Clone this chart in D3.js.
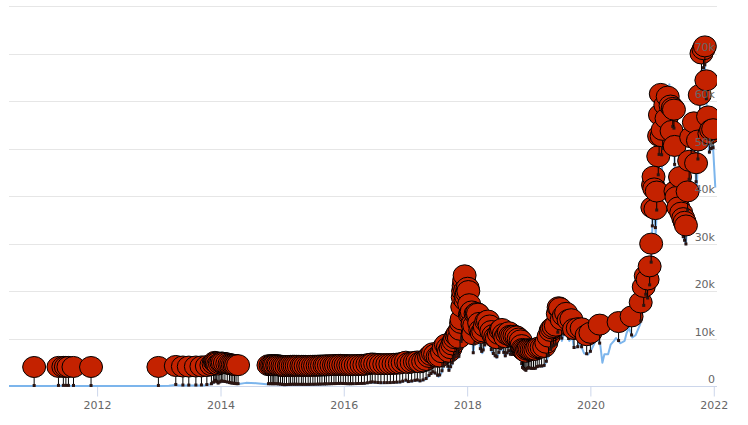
<!DOCTYPE html>
<html><head><meta charset="utf-8">
<script src="https://cdn.jsdelivr.net/npm/d3@7"></script>
<style>
html,body{margin:0;padding:0;background:#fff;}
svg{display:block;}
</style></head>
<body><svg id="chart" width="748" height="425"></svg>
<script>
// ---- Data ----
const priceDates = ["2010-07-28","2010-10-01","2010-11-07","2011-02-10","2011-04-01","2011-06-08","2011-09-01","2011-11-18","2012-01-01","2012-06-01","2012-09-01","2013-01-01","2013-03-01","2013-04-09","2013-05-01","2013-07-01","2013-10-01","2013-11-15","2013-11-30","2013-12-18","2014-01-05","2014-02-01","2014-03-01","2014-04-10","2014-06-01","2014-08-01","2014-10-01","2014-12-01","2015-01-14","2015-03-01","2015-06-01","2015-08-01","2015-11-04","2015-12-15","2016-02-01","2016-05-01","2016-06-17","2016-08-01","2016-10-01","2016-12-01","2017-01-04","2017-01-12","2017-02-15","2017-03-10","2017-03-25","2017-04-15","2017-05-01","2017-05-25","2017-06-12","2017-07-01","2017-07-16","2017-08-01","2017-08-17","2017-09-01","2017-09-15","2017-10-01","2017-10-20","2017-11-07","2017-11-12","2017-11-29","2017-12-08","2017-12-17","2017-12-22","2018-01-06","2018-01-17","2018-01-28","2018-02-06","2018-02-20","2018-03-05","2018-03-18","2018-04-01","2018-04-24","2018-05-05","2018-05-28","2018-06-24","2018-07-24","2018-08-14","2018-09-04","2018-09-15","2018-10-15","2018-11-14","2018-11-25","2018-12-15","2018-12-25","2019-01-15","2019-02-08","2019-02-24","2019-03-31","2019-04-15","2019-05-14","2019-05-31","2019-06-15","2019-06-26","2019-07-10","2019-07-16","2019-08-06","2019-08-29","2019-09-15","2019-09-26","2019-10-22","2019-10-26","2019-11-24","2019-12-17","2020-01-01","2020-02-12","2020-02-29","2020-03-12","2020-03-24","2020-04-15","2020-04-30","2020-05-20","2020-06-01","2020-06-27","2020-07-22","2020-08-02","2020-08-17","2020-09-05","2020-09-25","2020-10-21","2020-11-05","2020-11-24","2020-12-11","2020-12-27","2021-01-08","2021-01-22","2021-02-08","2021-02-21","2021-02-28","2021-03-13","2021-03-25","2021-04-13","2021-04-25","2021-05-08","2021-05-19","2021-06-08","2021-06-15","2021-06-22","2021-07-20","2021-08-13","2021-09-06","2021-09-21","2021-10-20","2021-11-09","2021-11-26","2021-12-04","2021-12-27","2022-01-10"];
const priceValues = [0.09,0.06,0.3,1,0.8,30,8,2.3,5,5.3,10,13,34,230,110,90,130,420,1130,520,950,820,560,360,660,590,380,380,180,260,230,280,400,450,370,450,750,600,615,750,1130,800,1000,1200,950,1180,1400,2300,2900,2500,1930,2700,4300,4900,3200,4400,6000,7100,5900,10000,16000,19300,14000,17100,11000,11700,6900,11200,11500,7900,6900,9600,9800,7100,5900,8200,6200,7400,6500,6600,5600,3800,3200,3800,3600,3600,4100,4100,5100,8000,8500,8800,12600,12300,9500,11800,9500,10300,8000,8200,9500,6900,6600,7200,10300,8500,4900,6700,6700,8700,9500,10100,9000,9500,11100,12300,10200,10700,12900,15500,19200,18000,26500,40700,32000,46000,57500,45000,61000,51000,63500,49000,58000,37000,33000,40000,32500,29800,47000,51700,40700,66000,67500,54000,49000,50700,41800];

const flagDates = ["2010-12-24","2011-05-17","2011-06-15","2011-06-30","2011-07-15","2011-08-14","2011-11-26","2012-12-29",
"2013-04-11","2013-05-23","2013-06-27","2013-08-08","2013-09-10","2013-10-12","2013-11-08","2013-11-21","2013-11-29","2013-12-05","2013-12-10","2013-12-18","2013-12-28",
"2014-01-06","2014-01-15","2014-01-27","2014-02-10","2014-02-23","2014-03-05","2014-03-15","2014-03-25","2014-04-03","2014-04-15",
"2014-10-12","2014-10-25","2014-11-03","2014-11-12","2014-11-20","2014-12-02","2014-12-10","2014-12-22","2015-01-03","2015-01-14","2015-01-27","2015-02-10","2015-02-20","2015-03-05","2015-03-16","2015-03-28","2015-04-10","2015-04-25","2015-05-06","2015-05-20","2015-06-04","2015-06-17","2015-07-02","2015-07-15","2015-07-30","2015-08-12","2015-08-25","2015-09-09","2015-09-20","2015-10-05","2015-10-20","2015-11-04","2015-11-16","2015-12-01","2015-12-14","2015-12-29",
"2016-01-12","2016-01-27","2016-02-10","2016-02-24","2016-03-12","2016-03-28","2016-04-15","2016-05-02","2016-05-20","2016-06-06","2016-06-18","2016-07-05","2016-07-22","2016-08-08","2016-08-28","2016-09-15","2016-10-03","2016-10-22","2016-11-09","2016-11-28","2016-12-15",
"2017-01-03","2017-01-18","2017-02-06","2017-02-25","2017-03-12","2017-03-28","2017-04-15","2017-05-03","2017-05-20","2017-06-01","2017-06-12","2017-06-25","2017-07-10","2017-07-22","2017-08-05","2017-08-15","2017-08-28","2017-09-08","2017-09-15","2017-09-25","2017-10-05","2017-10-13","2017-10-21","2017-10-30","2017-11-07","2017-11-13","2017-11-20","2017-11-26","2017-11-29","2017-12-03","2017-12-06","2017-12-08","2017-12-11","2017-12-14","2017-12-17","2017-12-20","2017-12-22","2017-12-26","2017-12-30",
"2018-01-04","2018-01-08","2018-01-13","2018-01-17","2018-01-22","2018-01-28","2018-02-02","2018-02-06","2018-02-12","2018-02-20","2018-02-27","2018-03-06","2018-03-13","2018-03-20","2018-03-28","2018-04-06","2018-04-15","2018-04-24","2018-05-04","2018-05-14","2018-05-24","2018-06-05","2018-06-16","2018-06-26","2018-07-08","2018-07-18","2018-07-26","2018-08-06","2018-08-15","2018-08-26","2018-09-05","2018-09-14","2018-09-25","2018-10-08","2018-10-20","2018-11-02","2018-11-14","2018-11-20","2018-11-25","2018-12-01","2018-12-08","2018-12-15","2018-12-22","2018-12-30",
"2019-01-08","2019-01-18","2019-01-29","2019-02-09","2019-02-20","2019-03-04","2019-03-18","2019-04-02","2019-04-15","2019-04-28","2019-05-10","2019-05-18","2019-05-28","2019-06-10","2019-06-22","2019-06-27","2019-07-05","2019-07-15","2019-07-28","2019-08-10","2019-08-25","2019-09-10","2019-09-26","2019-10-18","2019-11-10","2019-12-10",
"2020-01-01","2020-02-25","2020-06-16","2020-09-01","2020-10-25","2020-11-12","2020-11-24","2020-12-05","2020-12-17","2020-12-26",
"2021-01-02","2021-01-06","2021-01-09","2021-01-13","2021-01-20","2021-01-28","2021-02-06","2021-02-11","2021-02-16","2021-02-21","2021-02-26","2021-03-04","2021-03-20","2021-03-27","2021-04-03","2021-04-20","2021-04-26","2021-05-03","2021-05-10","2021-05-14","2021-05-19","2021-05-25","2021-06-05","2021-06-15","2021-06-22","2021-07-04","2021-07-12","2021-07-20","2021-07-30","2021-08-08","2021-08-20","2021-09-05","2021-09-18","2021-09-29","2021-10-10","2021-10-20","2021-11-01","2021-11-09","2021-11-18","2021-11-28","2021-12-06","2021-12-16","2021-12-28"];

const yTickValues = [0,10000,20000,30000,40000,50000,60000,70000,80000];
const yTickLabels = ["0","10k","20k","30k","40k","50k","60k","70k",""];
const xTickYears = [2012,2014,2016,2018,2020,2022];

// ---- Layout ----
const plot = {left: 9, right: 717, top: 6, bottom: 386};
const parse = d3.utcParse("%Y-%m-%d");
const FONT = '"Lucida Grande","Lucida Sans Unicode","DejaVu Sans",Arial,sans-serif';

const x = d3.scaleUtc()
  .domain([parse("2010-07-28"), parse("2022-01-20")])
  .range([plot.left, plot.right]);
const y = d3.scaleLinear().domain([0, 80000]).range([plot.bottom, plot.top]);

const svg = d3.select("#chart");
svg.append("defs").append("clipPath").attr("id","clip")
  .append("rect").attr("x",plot.left).attr("y",0)
  .attr("width",plot.right-plot.left).attr("height",plot.bottom+2);

// gridlines
svg.append("g").selectAll("line").data(yTickValues.filter(v=>v>0)).join("line")
  .attr("x1",plot.left).attr("x2",plot.right)
  .attr("y1",d=>Math.round(y(d))+0.5).attr("y2",d=>Math.round(y(d))+0.5)
  .attr("stroke","#e6e6e6").attr("stroke-width",1);

// x axis
const xAxis = d3.axisBottom(x)
  .tickValues(xTickYears.map(yr=>new Date(Date.UTC(yr,0,1))))
  .tickFormat(d3.utcFormat("%Y"))
  .tickSize(10).tickPadding(5);
const gx = svg.append("g").attr("transform",`translate(0,${plot.bottom+0.5})`).call(xAxis);
gx.select(".domain").attr("stroke","#ccd6eb").attr("d",`M${plot.left},0H${plot.right}`);
gx.selectAll(".tick line").attr("stroke","#ccd6eb");
gx.selectAll(".tick text").attr("fill","#666666").style("font-family",FONT).style("font-size","11px");

// price line
const prices = priceDates.map((d,i)=>({date:parse(d), value:priceValues[i]}));
const line = d3.line().x(d=>x(d.date)).y(d=>y(d.value));
svg.append("path").datum(prices)
  .attr("clip-path","url(#clip)")
  .attr("fill","none").attr("stroke","#7cb5ec").attr("stroke-width",2)
  .attr("stroke-linejoin","round").attr("d",line);

// flags positioned on the price series (like onSeries)
const bis = d3.bisector(d=>d.date).left;
function onSeriesValue(dt){
  const i = bis(prices, dt);
  if (i<=0) return prices[0].value;
  if (i>=prices.length) return prices[prices.length-1].value;
  const a = prices[i-1], b = prices[i];
  const t = (dt-a.date)/(b.date-a.date);
  return a.value + t*(b.value-a.value);
}
const flags = flagDates.map(d=>{const dt=parse(d); return {date:dt, value:onSeriesValue(dt)};});
const gf = svg.append("g").attr("clip-path","url(#clip)");
const rx = 11.5, ry = 10.5, lift = 19;
const fg = gf.selectAll("g").data(flags).join("g")
  .attr("transform",d=>`translate(${x(d.date)},${y(d.value)})`);
fg.append("line").attr("x1",0).attr("x2",0).attr("y1",-lift+ry).attr("y2",0)
  .attr("stroke","#000").attr("stroke-width",1);
fg.append("rect").attr("x",-1.5).attr("y",-2).attr("width",3).attr("height",3)
  .attr("fill","#2b1410");
fg.append("ellipse").attr("cx",0).attr("cy",-lift).attr("rx",rx).attr("ry",ry)
  .attr("fill","#c42200").attr("stroke","#000").attr("stroke-width",1);

// y labels (right side, above gridline)
svg.append("g").selectAll("text").data(yTickValues.map((v,i)=>({v,l:yTickLabels[i]})).filter(d=>d.l))
  .join("text")
  .attr("x",plot.right-2).attr("y",d=>y(d.v)-3)
  .attr("text-anchor","end")
  .attr("fill","#666666").style("font-family",FONT).style("font-size","11px")
  .text(d=>d.l);
</script></body></html>
